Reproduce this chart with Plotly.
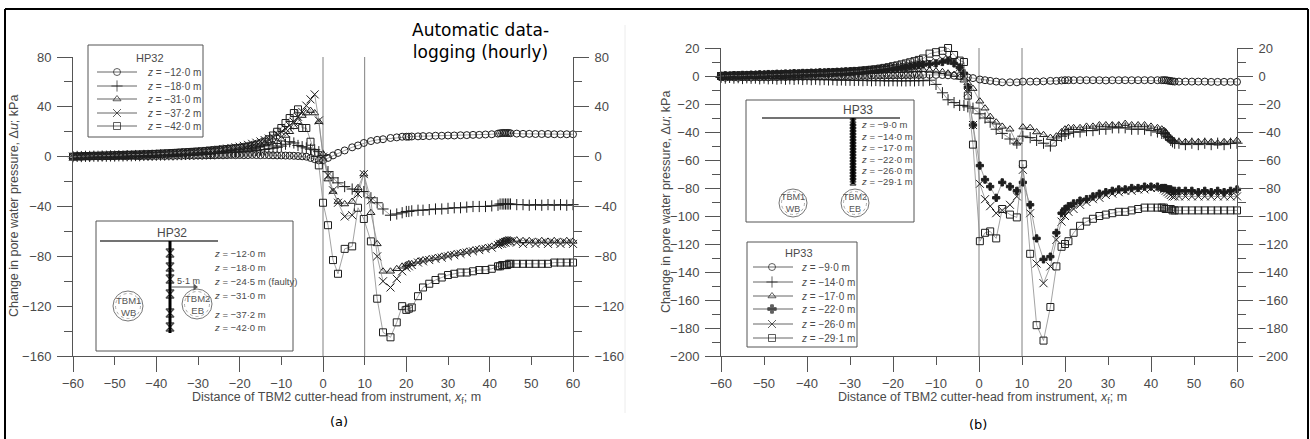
import plotly.graph_objects as go

W, H = 1310, 439

# ---------------- data : panel (a) HP32 ----------------
XA = [-60, -59, -58, -57, -56, -55, -54, -53, -52, -51, -50, -49, -48, -47, -46, -45, -44, -43, -42, -41,
      -40, -39, -38, -37, -36, -35, -34, -33, -32, -31, -30, -29, -28, -27, -26, -25, -24, -23, -22, -21,
      -20, -19, -18, -17, -16, -15, -14, -13, -12, -11, -10, -9, -8, -7, -6, -5, -4, -3, -2, -1,
      0, 1.2, 2.4, 3.6, 5.2, 7, 8.4, 9.8, 11.5, 13, 14.4, 16.2, 17.7, 19, 20, 20.6, 21.3, 22.8, 24, 25.5,
      27, 28.5, 30, 31.5, 33, 34.5, 36, 37.5, 39, 40.5, 42, 42.5, 43, 43.4, 43.8, 44.2, 44.6, 45, 46.5, 48,
      49.5, 51, 52.5, 54, 55.5, 57, 58.5, 60]

HP32_Z12 = [0, 0.3, 0, 0.2, 0, 0.3, 0.1, 0, 0.3, 0.2, 0.2, 0.4, 0.3, 0.2, 0.5, 0.4, 0.3, 0.5, 0.4, 0.5,
            0.5, 0.6, 0.5, 0.7, 0.6, 0.8, 0.7, 0.8, 0.9, 0.8, 1.0, 0.9, 1.0, 1.1, 1.0, 1.2, 1.1, 1.2, 1.3, 1.2,
            1.3, 1.2, 1.3, 1.4, 1.3, 1.2, 1.3, 1.2, 1.1, 1.0, 1.0, 0.9, 0.8, 0.7, 0.5, 0.3, 0, -1, -2, -3,
            -3, -1, 1, 3, 5, 7.5, 9, 11, 12.5, 13.5, 14, 15, 15.5, 16, 16, 16, 16.2, 16.3, 16.5, 16.5,
            16.8, 16.8, 17, 17, 17.2, 17.3, 17.5, 17.5, 17.8, 18, 18.5, 18.8, 19, 19, 19, 19, 19, 18.8, 18.5, 18.3,
            18.3, 18.2, 18.2, 18.2, 18, 18, 18, 18]

HP32_Z18 = [0, 0.2, 0.1, 0.3, 0.2, 0.4, 0.3, 0.5, 0.4, 0.6, 0.5, 0.7, 0.6, 0.8, 0.7, 0.9, 0.8, 1.0, 1.0, 1.1,
            1.2, 1.3, 1.3, 1.5, 1.4, 1.6, 1.7, 1.8, 1.8, 2.0, 2.1, 2.2, 2.4, 2.5, 2.7, 2.8, 3.0, 3.2, 3.4, 3.6,
            3.8, 4.0, 4.3, 4.6, 5.0, 5.4, 5.8, 6.3, 6.8, 7.5, 8.5, 10, 12, 11, 9, 8, 7, 6, 5.5, 4,
            1, -12, -17, -21, -24, -26, -28, -28, -33, -37, -42, -47, -46, -45, -44, -44, -43.5, -43, -43, -42.5,
            -42, -42, -41.5, -41, -41, -40.5, -40, -40, -40, -39.5, -39, -38, -38, -38, -38, -38, -38, -38, -38.5, -38.5,
            -39, -38.5, -39, -38.5, -39, -38.5, -39, -38.5]

HP32_Z31 = [0, 0.3, 0.2, 0.5, 0.3, 0.6, 0.5, 0.8, 0.6, 0.9, 0.8, 1.1, 1.0, 1.3, 1.2, 1.5, 1.4, 1.7, 1.6, 1.9,
            2.0, 2.2, 2.3, 2.5, 2.6, 2.8, 3.0, 3.2, 3.4, 3.6, 3.8, 4.0, 4.3, 4.6, 4.9, 5.2, 5.5, 5.9, 6.3, 6.7,
            7, 7.5, 8, 8.5, 9, 9.5, 10, 11, 10, 12, 14, 17, 20, 24, 28, 33, 35, 37, 35, 28,
            2, -18, -28, -36, -38, -36, -25, -14, -45, -70, -92, -92, -90, -88, -87, -86, -86, -84, -83, -82,
            -81, -80, -79, -78, -77, -76, -75, -74, -73, -72, -70, -69, -68, -68, -67, -67, -67, -67, -67, -67.5,
            -67.5, -68, -67.5, -68, -67.5, -68, -67.5, -68]

HP32_Z37 = [0, 0.2, 0.4, 0.3, 0.6, 0.5, 0.8, 0.7, 1.0, 0.9, 1.2, 1.1, 1.4, 1.3, 1.6, 1.5, 1.8, 1.7, 2.0, 2.0,
            2.2, 2.3, 2.5, 2.6, 2.8, 3.0, 3.2, 3.4, 3.6, 3.8, 4.0, 4.3, 4.6, 4.9, 5.2, 5.6, 6.0, 6.5, 7.0, 7.5,
            8, 8.7, 9.5, 10.3, 11.2, 12.2, 13.3, 14.5, 16, 18, 20, 22.5, 25, 28, 32, 36, 41, 46, 50, 29,
            0, -15, -27, -37, -48, -47, -30, -14, -35, -80, -100, -105, -98, -92, -89, -88, -87, -85, -84, -83,
            -82, -81, -80, -79, -78, -77, -76, -75, -74, -73, -71, -70, -70, -69, -69, -68, -68, -68, -69, -70,
            -69, -70, -69, -70, -69, -70, -69, -70]

HP32_Z42 = [0, 0.3, 0.2, 0.5, 0.4, 0.7, 0.6, 0.9, 0.8, 1.1, 1.0, 1.3, 1.2, 1.5, 1.4, 1.7, 1.6, 1.9, 1.8, 2.1,
            2.2, 2.4, 2.5, 2.7, 2.9, 3.1, 3.3, 3.5, 3.7, 3.9, 4.1, 4.3, 4.6, 4.9, 5.2, 5.5, 5.8, 6.1, 6.4, 6.7,
            7, 7.5, 8, 8.7, 9.5, 10.5, 12, 14, 17, 20, 23, 27, 31, 35, 38, 23, 23, 12, 3, -7,
            -37, -55, -83, -94, -74, -72, -41, -50, -68, -114, -141, -145, -133, -120, -123, -122, -121, -112, -105, -102,
            -99, -97, -95, -94, -93, -93, -92, -91, -91, -90, -88, -88, -87, -87, -87, -87, -86, -86, -86, -86,
            -86, -86, -86, -86, -85, -85, -85, -85]

# ---------------- data : panel (b) HP33 ----------------
XB = [-60, -59, -58, -57, -56, -55, -54, -53, -52, -51, -50, -49, -48, -47, -46, -45, -44, -43, -42, -41, -40, -39, -38, -37,
      -36, -35, -34, -33, -32, -31, -30, -29, -28, -27, -26, -25, -24, -23, -22, -21, -20, -19, -18, -17, -16, -15, -14, -13,
      -11.5, -10, -8.5, -7.2, -5.8, -4.5, -3.5, -2.6, -1.4, 0.2, 1.4, 2.6, 4, 5.4, 7.2, 8.8, 10.2, 11.9, 13.4, 15, 16.6, 18, 19.2,
      20, 20.8, 22, 23.5, 25, 26.5, 28, 29.5, 31, 32.5, 34, 35.5, 37, 38.5, 40, 41.5,
      42.5, 43, 43.4, 43.8, 44.2, 44.6, 45, 45.5, 46.5, 48, 49.5, 51, 52.5, 54, 55.5, 57, 58.5, 60]

HP33_Z9 = [-1, -1.2, -0.8, -1, -1.2, -0.9, -1, -1.1, -0.8, -1, -0.9, -1, -0.8, -0.9, -0.7, -0.8, -0.6, -0.7, -0.5, -0.6, -0.4, -0.5, -0.3, -0.4,
           -0.3, -0.2, -0.3, -0.1, -0.2, 0, -0.1, 0.1, 0, 0.2, 0.1, 0.3, 0.2, 0.4, 0.3, 0.5, 0.4, 0.6, 0.5, 0.7, 0.6, 0.8, 0.7, 0.8,
           0.8, 0.8, 0.7, 0.5, 0.2, 0, -0.5, -1, -1.5, -2.5, -3, -3.5, -4, -4.5, -4.5, -4.5, -4, -4, -4, -3.8, -3.5, -3.5, -3.2,
           -3, -3, -3, -3, -3, -3, -3, -3.2, -3, -3, -3, -3, -3, -3, -3, -3,
           -3, -3, -3, -3.2, -3.4, -3.6, -3.8, -4, -4, -4, -4, -4, -4, -4.2, -4.2, -4.2, -4.2, -4.2]

HP33_Z14 = [-1, -1.5, -1, -1.5, -1.2, -1.8, -1.3, -1.6, -1.5, -2, -1.5, -2, -1.8, -2.2, -1.8, -2.3, -2, -2.4, -2, -2.5, -2.2, -2.6, -2.3, -2.7,
            -2.5, -2.8, -2.6, -3, -2.8, -3, -3, -3.2, -3, -3.3, -3.1, -3.4, -3.2, -3.4, -3.3, -3.5, -3.3, -3.5, -3.4, -3.5, -3.3, -3.5, -3.2, -3.4,
            -3, -6, -12, -17, -19, -21, -21, -22, -23, -27, -30, -33, -38, -41, -45, -48, -43, -44, -46, -48, -50, -46, -43,
            -42, -41, -40, -40, -39, -39, -38, -38, -37, -37, -37, -38, -38, -38, -39, -40,
            -41, -41, -42, -43, -44, -46, -47, -48, -48, -49, -48, -49, -48, -49, -48, -49, -48, -48]

HP33_Z17 = [0, -0.5, 0, 0.3, 0, 0.5, 0.2, 0.5, 0.3, 0.8, 0.5, 1, 0.7, 1.2, 0.9, 1.4, 1.1, 1.6, 1.3, 1.8, 1.5, 2, 1.8, 2.2,
            2, 2.4, 2.2, 2.6, 2.4, 2.8, 2.6, 3, 2.8, 3.2, 3, 3.4, 3.2, 3.6, 3.4, 3.8, 3.6, 4, 3.8, 4.2, 4, 4.4, 4.2, 4.5,
            4, 3.5, 3, 2, 1, -1, -3, -5, -9, -18, -23, -29, -33, -36, -38, -48, -36.5, -37, -40, -42, -44, -43, -40,
            -38, -37, -37, -37, -36, -36, -35, -35, -35, -35, -34, -35, -35, -35, -36, -37,
            -38, -39, -40, -42, -44, -45, -46, -47, -47, -47, -47, -47, -47, -47, -48, -47, -47, -46]

HP33_Z22 = [0, 0.5, 0.2, 0.6, 0.4, 0.8, 0.6, 1, 0.8, 1.2, 1, 1.4, 1.2, 1.6, 1.4, 1.8, 1.6, 2, 1.8, 2.2, 2, 2.4, 2.2, 2.6,
            2.5, 2.8, 2.7, 3, 3, 3.3, 3.3, 3.6, 3.6, 3.9, 4, 4.3, 4.5, 4.8, 5, 5.3, 5.6, 6, 6.3, 6.6, 7, 7.4, 7.8, 8.2,
            8.5, 9, 10, 11, 9, 6, 2, -8, -35, -64, -74, -79, -87, -76, -79, -82, -76, -92, -116, -131, -129, -112, -98,
            -95, -93, -91, -89, -88, -86, -84, -83, -82, -81, -81, -80, -80, -79, -79, -79,
            -80, -80, -80, -81, -81, -81, -82, -82, -82, -82, -82, -83, -82, -83, -82, -83, -82, -81]

HP33_Z26 = [0, 0.3, 0.1, 0.5, 0.3, 0.7, 0.5, 0.9, 0.7, 1.1, 0.9, 1.3, 1.1, 1.5, 1.3, 1.7, 1.5, 1.9, 1.7, 2.1, 1.9, 2.3, 2.1, 2.5,
            2.3, 2.7, 2.5, 2.9, 2.8, 3.2, 3.1, 3.5, 3.5, 3.9, 4, 4.4, 4.6, 5, 5.3, 5.7, 6, 6.4, 6.8, 7.2, 7.6, 8, 8.5, 9,
            9.5, 10.5, 12, 13, 11, 6, 0, -12, -35, -77, -88, -93, -98, -96, -92, -86, -67, -98, -134, -148, -136, -117, -104,
            -100, -97, -95, -92, -90, -88, -87, -85, -84, -83, -82, -82, -81, -81, -80, -80,
            -80, -81, -82, -83, -84, -85, -86, -86, -86, -86, -86, -86, -86, -86, -86, -86, -86, -86]

HP33_Z29 = [0, 0.2, 0, 0.4, 0.2, 0.5, 0.3, 0.6, 0.4, 0.8, 0.6, 1, 0.8, 1.2, 1, 1.4, 1.2, 1.6, 1.4, 1.8, 1.6, 2, 1.8, 2.2,
            2, 2.4, 2.3, 2.7, 2.6, 3, 3, 3.4, 3.5, 3.9, 4.1, 4.5, 4.8, 5.3, 5.8, 6.3, 7, 7.6, 8.3, 9, 9.8, 10.6, 11.5, 12.5,
            16, 17, 18, 20, 15, 11, 10, -14, -49, -118, -112, -111, -116, -95, -99, -101, -63, -127, -178, -189, -165, -136, -122,
            -120, -118, -112, -107, -104, -102, -100, -99, -98, -97, -97, -96, -95, -94, -94, -94,
            -94, -94, -95, -95, -95, -95, -96, -96, -96, -96, -96, -96, -96, -96, -96, -96, -96, -96]

NAMES_A = ["z = −12·0 m", "z = −18·0 m", "z = −31·0 m", "z = −37·2 m", "z = −42·0 m"]
NAMES_B = ["z = −9·0 m", "z = −14·0 m", "z = −17·0 m", "z = −22·0 m", "z = −26·0 m", "z = −29·1 m"]
INSET_A = ["z = −12·0 m", "z = −18·0 m", "z = −24·5 m (faulty)", "z = −31·0 m", "z = −37·2 m", "z = −42·0 m"]

X_TICKS = [-60, -50, -40, -30, -20, -10, 0, 10, 20, 30, 40, 50, 60]
X_LONG = [-60, -40, -20, 0, 20, 40, 60]
Y_A_TICKS = [-160, -120, -80, -40, 0, 40, 80]
Y_B_TICKS = [-200, -180, -160, -140, -120, -100, -80, -60, -40, -20, 0, 20]
V_LINES = [0, 10]

# ---------------- styling ----------------
AX = "#555555"
TXT = "#4a4a4a"
FONT = "Liberation Sans, Arial, Helvetica, sans-serif"
TICKFONT = dict(family=FONT, size=13, color=TXT)
LINE = dict(color="#8c8c8c", width=0.8)
MK = "#1e1e1e"

SYM_A = ["circle-open", "cross-thin-open", "triangle-up-open", "x-thin-open", "square-open"]
SYM_B = ["circle-open", "cross-thin-open", "triangle-up-open", "cross", "x-thin-open", "square-open"]


def mk(sym):
    size = 7
    if sym in ("cross-thin-open", "x-thin-open"):
        size = 8
    if sym == "cross":
        size = 6
    return dict(symbol=sym, size=size, color=MK, line=dict(color=MK, width=1))


fig = go.Figure()

ys_a = [HP32_Z12, HP32_Z18, HP32_Z31, HP32_Z37, HP32_Z42]
for i, (ys, sym) in enumerate(zip(ys_a, SYM_A)):
    xa_ax, ya_ax = ("x", "y") if i % 2 == 0 else ("x3", "y2")
    fig.add_trace(go.Scatter(x=XA, y=ys, mode="lines+markers", line=LINE, marker=mk(sym),
                             xaxis=xa_ax, yaxis=ya_ax, cliponaxis=False, showlegend=False,
                             name=NAMES_A[i]))

ys_b = [HP33_Z9, HP33_Z14, HP33_Z17, HP33_Z22, HP33_Z26, HP33_Z29]
for i, (ys, sym) in enumerate(zip(ys_b, SYM_B)):
    xb_ax, yb_ax = ("x2", "y3") if i % 2 == 0 else ("x4", "y4")
    fig.add_trace(go.Scatter(x=XB, y=ys, mode="lines+markers", line=LINE, marker=mk(sym),
                             xaxis=xb_ax, yaxis=yb_ax, cliponaxis=False, showlegend=False,
                             name=NAMES_B[i]))


def fx(p):
    return p / W


def fy(p):
    return 1 - p / H


def xmain(domain, anchor):
    return dict(domain=domain, range=[-60, 60], anchor=anchor, tickmode="array", tickvals=X_TICKS,
                ticks="outside", ticklen=8, tickwidth=1, tickcolor=AX, showline=True, linecolor=AX,
                linewidth=1, showgrid=False, zeroline=False, tickfont=TICKFONT, automargin=False,
                fixedrange=True, ticklabelstandoff=7)


def xlong(over, anchor):
    return dict(overlaying=over, range=[-60, 60], anchor=anchor, tickmode="array", tickvals=X_LONG,
                ticks="outside", ticklen=15, tickwidth=1, tickcolor=AX, showline=False,
                showticklabels=False, showgrid=False, zeroline=False, automargin=False, fixedrange=True)


def yax(domain, rng, tickvals, minor_dtick, anchor, side="left", over=None):
    d = dict(domain=domain, range=rng, anchor=anchor, side=side, tickmode="array", tickvals=tickvals,
             ticks="outside", ticklen=15, tickwidth=1, tickcolor=AX, showline=True, linecolor=AX,
             linewidth=1, showgrid=False, zeroline=False, tickfont=TICKFONT, automargin=False,
             fixedrange=True, ticklabelstandoff=3,
             minor=dict(ticks="outside", tick0=0, dtick=minor_dtick, ticklen=8, tickcolor=AX, tickwidth=1,
                        showgrid=False))
    if over:
        d["overlaying"] = over
        d.pop("domain")
    return d


dom_xa = [fx(73), fx(573)]
dom_ya = [fy(356), fy(57)]
dom_xb = [fx(721), fx(1237)]
dom_yb = [fy(356), fy(48)]

fig.update_layout(
    width=W, height=H, margin=dict(l=0, r=0, t=0, b=0), autosize=False,
    paper_bgcolor="white", plot_bgcolor="rgba(0,0,0,0)",
    font=dict(family=FONT, color=TXT),
    xaxis=xmain(dom_xa, "y"),
    xaxis3=xlong("x", "y"),
    yaxis=yax(dom_ya, [-160, 80], Y_A_TICKS, 20, "x"),
    yaxis2=yax(dom_ya, [-160, 80], Y_A_TICKS, 20, "x", side="right", over="y"),
    xaxis2=xmain(dom_xb, "y3"),
    xaxis4=xlong("x2", "y3"),
    yaxis3=yax(dom_yb, [-200, 20], Y_B_TICKS, 10, "x2"),
    yaxis4=yax(dom_yb, [-200, 20], Y_B_TICKS, 10, "x2", side="right", over="y3"),
    xaxis5=dict(domain=[0, 1], range=[0, W], anchor="y5", visible=False, fixedrange=True),
    yaxis5=dict(domain=[0, 1], range=[H, 0], anchor="x5", visible=False, fixedrange=True),
    showlegend=False,
)

shapes = []
annos = []

# reference lines at x = 0 and 10
for v in V_LINES:
    shapes.append(dict(type="line", xref="x", yref="y", x0=v, x1=v, y0=-160, y1=80,
                       line=dict(color="#808080", width=1), layer="below"))
    shapes.append(dict(type="line", xref="x2", yref="y3", x0=v, x1=v, y0=-200, y1=20,
                       line=dict(color="#808080", width=1), layer="below"))


def pline(x0, y0, x1, y1, color="#555", width=1, dash=None, layer="above"):
    ln = dict(color=color, width=width)
    if dash:
        ln["dash"] = dash
    shapes.append(dict(type="line", xref="x5", yref="y5", x0=x0, y0=y0, x1=x1, y1=y1, line=ln, layer=layer))


def prect(x0, y0, x1, y1, color="#555", width=1, fill="white"):
    shapes.append(dict(type="rect", xref="x5", yref="y5", x0=x0, y0=y0, x1=x1, y1=y1,
                       line=dict(color=color, width=width), fillcolor=fill, layer="below"))


def pcircle(cx, cy, r, color="#666", width=1, dash=None):
    ln = dict(color=color, width=width)
    if dash:
        ln["dash"] = dash
    shapes.append(dict(type="circle", xref="x5", yref="y5", x0=cx - r, x1=cx + r, y0=cy - r, y1=cy + r,
                       line=ln, layer="below"))


def ptext(x, y, text, size=10, color=TXT, xanchor="center", family=FONT, angle=0):
    annos.append(dict(xref="x5", yref="y5", x=x, y=y, text=text, showarrow=False, xanchor=xanchor,
                      yanchor="middle", textangle=angle, font=dict(size=size, color=color, family=family)))


def zlabel(s):
    return s.replace("z =", "<i>z</i> =", 1)


# outer frame and faint separator
pline(5, 9, 1308, 9, color="black", width=2)
pline(5, 9, 5, 445, color="black", width=2)
pline(1308, 9, 1308, 445, color="black", width=2)
pline(625, 25, 625, 413, color="#ececec", width=1, layer="below")

# axis titles
YT = "Change in pore water pressure, Δ<i>u</i>; kPa"
XT = "Distance of TBM2 cutter-head from instrument, <i>x</i><sub>f</sub>; m"
ptext(14, 206, YT, size=12.5, angle=-90)
ptext(666, 202, YT, size=12.5, angle=-90)
ptext(336, 398, XT, size=12.5)
ptext(982, 398, XT, size=12.5)

ptext(480, 41, "Automatic data-<br>logging (hourly)", size=17, color="black", family="DejaVu Sans")
ptext(339, 421, "(a)", size=13, color="black", family="DejaVu Sans")
ptext(978, 424, "(b)", size=13, color="black", family="DejaVu Sans")

# legend (a)
prect(88, 45, 203, 137)
ptext(150, 58, "HP32", size=11)
leg_a_y = [72, 86, 99, 113, 126]
for yy, nm in zip(leg_a_y, NAMES_A):
    pline(97, yy, 137, yy, color="#666", width=1, layer="below")
    ptext(145, yy, zlabel(nm), size=10, xanchor="left")

# legend (b)
prect(747, 242, 857, 347)
ptext(799, 253, "HP33", size=11)
leg_b_y = [267, 282, 296, 309, 324, 338]
for yy, nm in zip(leg_b_y, NAMES_B):
    pline(753, yy, 793, yy, color="#666", width=1, layer="below")
    ptext(799, yy, zlabel(nm), size=10, xanchor="left")

# inset (a)
prect(96, 221, 293, 351)
ptext(172, 233, "HP32", size=12)
pline(100, 241, 218, 241, color="#444", width=1.5, layer="below")
pline(170, 241, 170, 333, color="black", width=3, layer="below")
inset_a_lab_y = [253, 267, 281, 295, 314, 327]
for yy, nm in zip(inset_a_lab_y, INSET_A):
    ptext(212, yy, zlabel(nm), size=9.5, xanchor="left")
pline(171, 287, 194, 287, color="#555", width=1, layer="below")
ptext(188, 281, "5·1 m", size=9)
for cx, cy, t in [(128, 306, "TBM1<br>WB"), (197, 304, "TBM2<br>EB")]:
    pcircle(cx, cy, 15, color="#777", width=1)
    pcircle(cx, cy, 12.5, color="#aaa", width=1, dash="dot")
    ptext(cx, cy, t, size=9.5, color="#555")

# inset (b)
prect(746, 100, 914, 222)
ptext(858, 110, "HP33", size=12)
pline(762, 118, 900, 118, color="#444", width=1.5, layer="below")
pline(853, 118, 853, 184, color="black", width=3, layer="below")
inset_b_lab_y = [124, 136, 147, 159, 170, 181]
for yy, nm in zip(inset_b_lab_y, NAMES_B):
    ptext(859, yy, zlabel(nm), size=9.5, xanchor="left")
for cx, cy, t in [(793, 203, "TBM1<br>WB"), (855, 203, "TBM2<br>EB")]:
    pcircle(cx, cy, 14, color="#777", width=1)
    pcircle(cx, cy, 11.5, color="#aaa", width=1, dash="dot")
    ptext(cx, cy, t, size=9, color="#555")

# decoration markers (legend samples, piezometer symbols, arrow head)
dec_x = [117] * 5 + [772] * 6
dec_y = leg_a_y + leg_b_y
dec_s = SYM_A + SYM_B
fig.add_trace(go.Scatter(x=dec_x, y=dec_y, mode="markers", xaxis="x5", yaxis="y5", showlegend=False,
                         hoverinfo="skip",
                         marker=dict(symbol=dec_s, size=[7, 8, 7, 8, 7, 7, 8, 7, 7, 8, 7], color=MK,
                                     line=dict(color=MK, width=1))))
pz_a_y = [253, 267, 279, 294, 313, 327]
pz_b_y = [122, 125, 128, 131, 134, 137, 140, 143, 146, 149, 152, 155, 158, 161, 164, 167, 170, 173, 176, 179, 182]
fig.add_trace(go.Scatter(x=[170] * len(pz_a_y) + [853] * len(pz_b_y), y=pz_a_y + pz_b_y, mode="markers",
                         xaxis="x5", yaxis="y5", showlegend=False, hoverinfo="skip",
                         marker=dict(symbol="hourglass-open", size=[8] * len(pz_a_y) + [6] * len(pz_b_y),
                                     color="black", line=dict(color="black", width=1.3))))
fig.add_trace(go.Scatter(x=[195], y=[287], mode="markers", xaxis="x5", yaxis="y5", showlegend=False,
                         hoverinfo="skip",
                         marker=dict(symbol="triangle-right", size=6, color="#555")))

fig.update_layout(shapes=shapes, annotations=annos)
fig.write_html("out.html", config={"displayModeBar": False},
               post_script="document.body.style.margin='0';document.body.style.padding='0';"
                           "document.body.style.overflow='hidden';")
